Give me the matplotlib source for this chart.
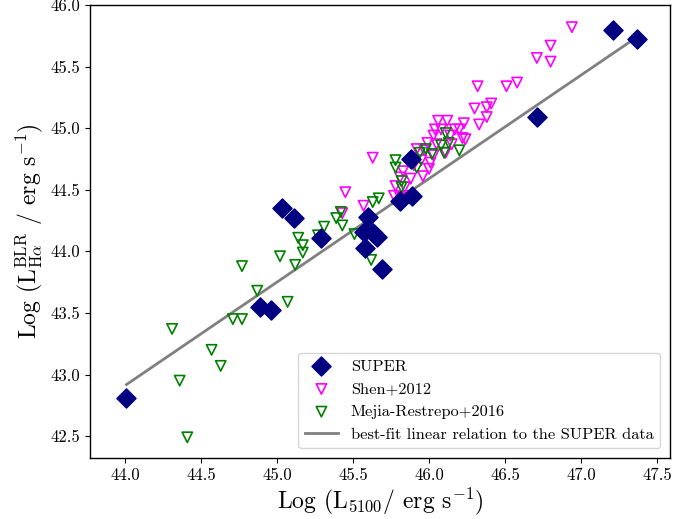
import numpy as np
import matplotlib
matplotlib.use("Agg")
import matplotlib.pyplot as plt

plt.rcParams['font.family'] = ['cmr10', 'DejaVu Serif']
plt.rcParams['mathtext.fontset'] = 'cm'
plt.rcParams['axes.unicode_minus'] = False

# SUPER sample
super_x = [44.01, 44.89, 44.96, 45.03, 45.11, 45.29, 45.60, 45.57, 45.63, 45.66,
           45.58, 45.69, 45.88, 45.81, 45.89, 46.71, 47.21, 47.37]
super_y = [42.81, 43.55, 43.52, 44.35, 44.27, 44.11, 44.28, 44.16, 44.15, 44.12,
           44.03, 43.86, 44.75, 44.41, 44.45, 45.09, 45.80, 45.72]

# Shen+2012
shen_x = [46.94, 46.80, 46.71, 46.80, 46.32, 46.51, 46.58, 46.30, 46.38, 46.41,
          46.38, 46.33, 46.23, 46.06, 46.12, 46.04, 46.08, 46.17, 46.20, 46.03,
          46.14, 46.22, 45.99, 46.05, 46.15, 46.24, 45.92, 45.97, 46.03, 46.11,
          45.95, 46.01, 45.90, 46.00, 45.96, 45.83, 45.81, 45.88, 45.78, 45.84,
          45.77, 45.81, 45.86, 45.63, 45.45, 45.57, 45.43]
shen_y = [45.82, 45.67, 45.57, 45.54, 45.34, 45.34, 45.37, 45.16, 45.17, 45.20,
          45.09, 45.03, 45.04, 45.06, 45.06, 44.99, 44.99, 44.99, 44.99, 44.94,
          44.94, 44.92, 44.88, 44.87, 44.87, 44.91, 44.83, 44.82, 44.78, 44.80,
          44.74, 44.72, 44.70, 44.67, 44.61, 44.65, 44.60, 44.59, 44.53, 44.52,
          44.45, 44.44, 44.45, 44.76, 44.48, 44.37, 44.31]

# Mejia-Restrepo+2016
mejia_x = [44.31, 44.36, 44.41, 44.57, 44.63, 44.71, 44.77, 44.77, 44.87, 45.07,
           45.02, 45.12, 45.14, 45.17, 45.17, 45.27, 45.31, 45.39, 45.42, 45.43,
           45.51, 45.62, 45.63, 45.67, 45.78, 45.78, 45.82, 45.82, 45.92, 45.94,
           45.98, 46.02, 46.08, 46.11, 46.13, 46.10, 46.20]
mejia_y = [43.37, 42.95, 42.49, 43.20, 43.07, 43.45, 43.45, 43.88, 43.68, 43.59,
           43.96, 43.89, 44.11, 44.05, 43.99, 44.13, 44.20, 44.27, 44.32, 44.21,
           44.14, 43.93, 44.40, 44.43, 44.74, 44.68, 44.57, 44.52, 44.68, 44.80,
           44.83, 44.79, 44.86, 44.96, 44.88, 44.80, 44.82]

# best-fit relation for SUPER
fit_slope = 0.84
fit_intercept_at_44 = 42.91

fig = plt.figure(figsize=(6.97, 5.19), dpi=100)
ax = fig.add_axes([0.1291, 0.1175, 0.8322, 0.8729])

ax.scatter(super_x, super_y, marker='D', s=95, color='navy', zorder=4, label='SUPER')
ax.scatter(shen_x, shen_y, marker='v', s=55, facecolors='none', edgecolors='magenta',
           linewidths=1.2, zorder=3, label='Shen+2012')
ax.scatter(mejia_x, mejia_y, marker='v', s=55, facecolors='none', edgecolors='green',
           linewidths=1.2, zorder=3, label='Mejia-Restrepo+2016')

xfit = np.array([min(super_x), max(super_x)])
yfit = fit_intercept_at_44 + fit_slope * (xfit - 44.0)
ax.plot(xfit, yfit, color='gray', lw=2, zorder=2,
        label='best-fit linear relation to the SUPER data')

ax.set_xlim(43.77, 47.586)
ax.set_ylim(42.322, 45.99)
ax.set_xticks(np.arange(44.0, 47.6, 0.5))
ax.set_yticks(np.arange(42.5, 46.1, 0.5))
ax.tick_params(labelsize=12)
for sp in ax.spines.values():
    sp.set_linewidth(1.0)
ax.set_xlabel(r'Log (L$_{\rm 5100}$/ erg s$^{-1}$)', fontsize=17, labelpad=2)
ax.set_ylabel(r'Log (L$_{\rm H\alpha}^{\rm BLR}$ / erg s$^{-1}$)', fontsize=17, labelpad=4)

ax.legend(loc='lower right', fontsize=11.8, borderaxespad=0.6)

fig.savefig('out.png', dpi=100)
